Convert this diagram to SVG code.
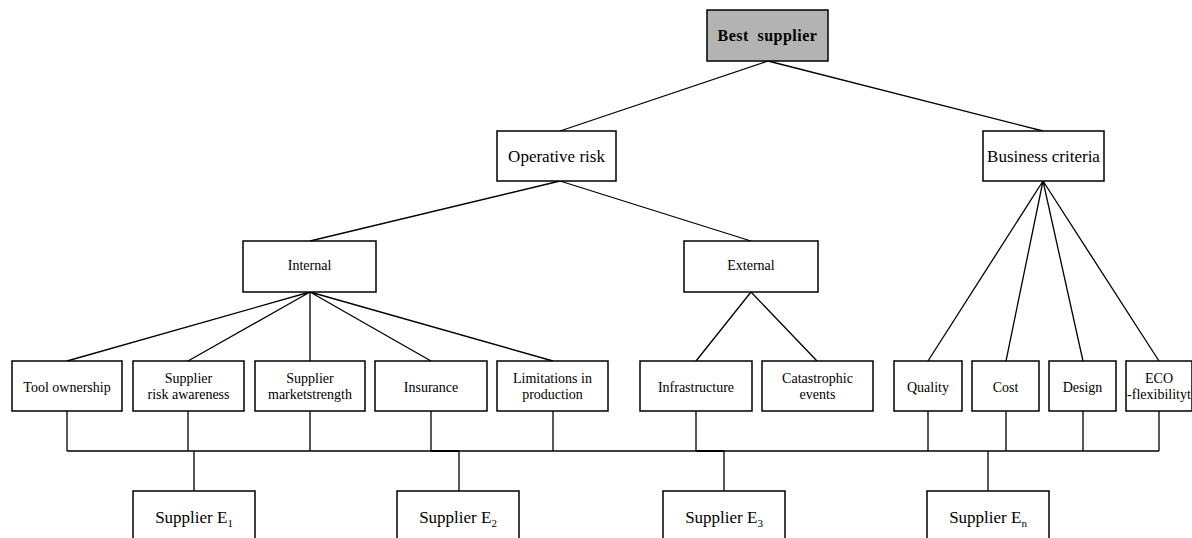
<svg xmlns="http://www.w3.org/2000/svg" width="1192" height="538" viewBox="0 0 1192 538">
<style>
.box{fill:#fff;stroke:#000;stroke-width:1.5}
.root{fill:#b3b3b3;stroke:#000;stroke-width:1.5}
.ln{fill:none;stroke:#000;stroke-width:1.3}
.ln2{fill:none;stroke:#000;stroke-width:2}
text{font-family:"Liberation Serif","Times New Roman",serif;fill:#000;text-anchor:middle}
.t1{font-size:16px;font-weight:bold;word-spacing:4px;letter-spacing:0.5px}
.t2{font-size:17px}
.t3{font-size:14px}
.t4{font-size:14px}
.t5{font-size:17px}
.sub{font-size:11px}
</style>
<rect width="1192" height="538" fill="#fff"/>
<g id="connectors">
<path class="ln" d="M768 61 L560 131 M768 61 L1043 131"/>
<path class="ln" d="M560 181 L310 241 M560 181 L751 241"/>
<path class="ln" d="M310 292 L67 361 M310 292 L188 361 M310 292 L310 361 M310 292 L431 361 M310 292 L553 361"/>
<path class="ln" d="M751 292 L696 361 M751 292 L817 361"/>
<path class="ln" d="M1043 181 L928 361 M1043 181 L1006 361 M1043 181 L1083 361 M1043 181 L1159 361"/>
<path class="ln" d="M67 411 V451 M188 411 V451 M310 411 V451 M431 411 V451 M553 411 V451 M696 411 V451 M928 411 V451 M1006 411 V451 M1083 411 V451 M1159 411 V451"/>
<path class="ln" d="M67 451 H1159"/>
<path class="ln2" d="M431 451 H459 M696 451 H724"/>
<path class="ln" d="M194 451 V491 M459 451 V491 M724 451 V491 M988 451 V491"/>
</g>
<g id="best-supplier"><rect class="root" x="707" y="10" width="121" height="51"/><text class="t1" x="767.5" y="41">Best supplier</text></g>
<g id="operative-risk"><rect class="box" x="497" y="131" width="119" height="50"/><text class="t2" x="556.5" y="162">Operative risk</text></g>
<g id="business-criteria"><rect class="box" x="983" y="131" width="121" height="50"/><text class="t2" x="1043.5" y="162">Business criteria</text></g>
<g id="internal"><rect class="box" x="243" y="241" width="133" height="51"/><text class="t3" x="309.5" y="270">Internal</text></g>
<g id="external"><rect class="box" x="684" y="241" width="134" height="51"/><text class="t3" x="751" y="270">External</text></g>
<g id="tool-ownership"><rect class="box" x="12" y="361" width="110" height="50"/><text class="t4" x="67" y="392">Tool ownership</text></g>
<g id="supplier-risk-awareness"><rect class="box" x="133" y="361" width="111" height="50"/><text class="t4" x="188.5" y="383">Supplier</text><text class="t4" x="188.5" y="399">risk awareness</text></g>
<g id="supplier-marketstrength"><rect class="box" x="255" y="361" width="110" height="50"/><text class="t4" x="310" y="383">Supplier</text><text class="t4" x="310" y="399">marketstrength</text></g>
<g id="insurance"><rect class="box" x="375" y="361" width="112" height="50"/><text class="t4" x="431" y="392">Insurance</text></g>
<g id="limitations"><rect class="box" x="497" y="361" width="111" height="50"/><text class="t4" x="552.5" y="383">Limitations in</text><text class="t4" x="552.5" y="399">production</text></g>
<g id="infrastructure"><rect class="box" x="640" y="361" width="112" height="50"/><text class="t4" x="696" y="392">Infrastructure</text></g>
<g id="catastrophic-events"><rect class="box" x="762" y="361" width="111" height="50"/><text class="t4" x="817.5" y="383">Catastrophic</text><text class="t4" x="817.5" y="399">events</text></g>
<g id="quality"><rect class="box" x="894" y="361" width="68" height="50"/><text class="t4" x="928" y="392">Quality</text></g>
<g id="cost"><rect class="box" x="972" y="361" width="67" height="50"/><text class="t4" x="1005.5" y="392">Cost</text></g>
<g id="design"><rect class="box" x="1049" y="361" width="67" height="50"/><text class="t4" x="1082.5" y="392">Design</text></g>
<g id="eco-flexibility"><rect class="box" x="1126" y="361" width="66" height="50"/><text class="t4" x="1159" y="383">ECO</text><text class="t4" x="1159" y="399">-flexibilityt</text></g>
<g id="supplier-e1"><rect class="box" x="133" y="491" width="122" height="60"/><text class="t5" x="194" y="523">Supplier E<tspan class="sub" dy="4">1</tspan></text></g>
<g id="supplier-e2"><rect class="box" x="397" y="491" width="122" height="60"/><text class="t5" x="458" y="523">Supplier E<tspan class="sub" dy="4">2</tspan></text></g>
<g id="supplier-e3"><rect class="box" x="663" y="491" width="122" height="60"/><text class="t5" x="724" y="523">Supplier E<tspan class="sub" dy="4">3</tspan></text></g>
<g id="supplier-en"><rect class="box" x="927" y="491" width="122" height="60"/><text class="t5" x="988" y="523">Supplier E<tspan class="sub" dy="4">n</tspan></text></g>
</svg>
